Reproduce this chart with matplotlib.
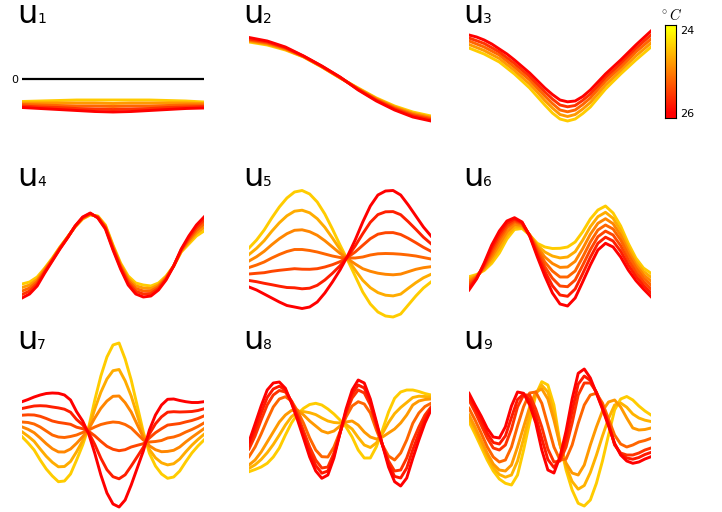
import numpy as np
import matplotlib.pyplot as plt
from matplotlib.colors import Normalize

# temperature (deg C) of each curve, yellow -> red
T5 = [24.4, 24.8, 25.2, 25.6, 26.0]
T7 = [24.4, 24.65, 24.95, 25.2, 25.45, 25.75, 26.0]
T7b = [24.4, 24.6, 24.8, 25.2, 25.6, 25.8, 26.0]

# singular vectors u1..u9, one row per temperature
U1 = [[-0.225, -0.22, -0.215, -0.21, -0.21, -0.21, -0.21, -0.21, -0.215, -0.22, -0.23],
      [-0.24, -0.24, -0.24, -0.24, -0.24, -0.245, -0.24, -0.24, -0.24, -0.24, -0.245],
      [-0.255, -0.26, -0.265, -0.27, -0.27, -0.275, -0.27, -0.27, -0.265, -0.26, -0.26],
      [-0.27, -0.28, -0.285, -0.295, -0.30, -0.305, -0.30, -0.295, -0.285, -0.28, -0.275],
      [-0.285, -0.295, -0.305, -0.315, -0.325, -0.33, -0.325, -0.315, -0.305, -0.295, -0.29]]

U2 = [[0.37, 0.34, 0.29, 0.22, 0.12, 0.01, -0.09, -0.19, -0.27, -0.33, -0.37],
      [0.38, 0.35, 0.297, 0.222, 0.122, 0.012, -0.095, -0.197, -0.28, -0.343, -0.383],
      [0.39, 0.36, 0.305, 0.225, 0.125, 0.015, -0.10, -0.205, -0.29, -0.355, -0.395],
      [0.40, 0.37, 0.312, 0.228, 0.128, 0.018, -0.105, -0.212, -0.30, -0.367, -0.407],
      [0.415, 0.38, 0.32, 0.23, 0.13, 0.02, -0.11, -0.22, -0.31, -0.38, -0.42]]

U3 = [[0.31, 0.28, 0.25, 0.21, 0.17, 0.11, 0.05, -0.02, -0.09, -0.175, -0.26, -0.34, -0.40,
       -0.42, -0.40, -0.345, -0.28, -0.19, -0.10, -0.025, 0.05, 0.12, 0.19, 0.255, 0.32],
      [0.345, 0.315, 0.285, 0.245, 0.205, 0.145, 0.085, 0.017, -0.05, -0.13, -0.215, -0.29, -0.355,
       -0.375, -0.355, -0.30, -0.235, -0.148, -0.06, 0.012, 0.085, 0.158, 0.23, 0.295, 0.36],
      [0.38, 0.35, 0.32, 0.28, 0.24, 0.18, 0.12, 0.055, -0.01, -0.09, -0.17, -0.245, -0.31,
       -0.328, -0.31, -0.255, -0.19, -0.105, -0.02, 0.05, 0.12, 0.195, 0.27, 0.335, 0.40],
      [0.41, 0.383, 0.355, 0.313, 0.27, 0.213, 0.155, 0.09, 0.025, -0.053, -0.13, -0.20, -0.26,
       -0.278, -0.265, -0.213, -0.15, -0.068, 0.015, 0.085, 0.155, 0.23, 0.305, 0.373, 0.44],
      [0.44, 0.42, 0.39, 0.35, 0.30, 0.25, 0.19, 0.125, 0.06, -0.015, -0.09, -0.155, -0.21,
       -0.228, -0.22, -0.175, -0.11, -0.03, 0.05, 0.12, 0.19, 0.265, 0.34, 0.41, 0.48]]

U4 = [[-0.29, -0.27, -0.22, -0.13, -0.03, 0.08, 0.18, 0.28, 0.36, 0.40, 0.39, 0.30, 0.10,
       -0.08, -0.21, -0.28, -0.30, -0.31, -0.28, -0.21, -0.11, 0.03, 0.11, 0.19, 0.24],
      [-0.325, -0.30, -0.245, -0.14, -0.04, 0.075, 0.178, 0.283, 0.365, 0.405, 0.385, 0.29, 0.088,
       -0.095, -0.233, -0.308, -0.33, -0.335, -0.298, -0.22, -0.11, 0.038, 0.13, 0.218, 0.275],
      [-0.36, -0.33, -0.265, -0.155, -0.045, 0.07, 0.175, 0.285, 0.37, 0.41, 0.38, 0.28, 0.075,
       -0.11, -0.255, -0.335, -0.36, -0.36, -0.315, -0.23, -0.11, 0.045, 0.15, 0.245, 0.31],
      [-0.395, -0.36, -0.288, -0.168, -0.053, 0.065, 0.173, 0.288, 0.375, 0.415, 0.375, 0.27, 0.063,
       -0.125, -0.278, -0.363, -0.39, -0.385, -0.333, -0.24, -0.11, 0.053, 0.17, 0.273, 0.345],
      [-0.43, -0.39, -0.31, -0.18, -0.06, 0.06, 0.17, 0.29, 0.38, 0.42, 0.37, 0.26, 0.05,
       -0.14, -0.30, -0.39, -0.42, -0.41, -0.35, -0.25, -0.11, 0.06, 0.19, 0.30, 0.38]]

U5 = [[0.07, 0.15, 0.25, 0.37, 0.48, 0.57, 0.63, 0.645, 0.61, 0.53, 0.41, 0.26, 0.10,
       -0.05, -0.21, -0.37, -0.49, -0.57, -0.61, -0.62, -0.59, -0.50, -0.41, -0.33, -0.27],
      [0.005, 0.067, 0.143, 0.237, 0.322, 0.392, 0.438, 0.448, 0.422, 0.363, 0.277, 0.17, 0.058,
       -0.043, -0.15, -0.253, -0.327, -0.376, -0.402, -0.409, -0.391, -0.333, -0.277, -0.228, -0.193],
      [-0.06, -0.017, 0.037, 0.103, 0.163, 0.213, 0.247, 0.252, 0.233, 0.197, 0.143, 0.08, 0.017,
       -0.037, -0.09, -0.137, -0.163, -0.182, -0.193, -0.198, -0.191, -0.167, -0.143, -0.127, -0.117],
      [-0.125, -0.10, -0.07, -0.03, 0.005, 0.035, 0.055, 0.055, 0.045, 0.03, 0.01, -0.01, -0.025,
       -0.03, -0.03, -0.02, 0.0, 0.012, 0.015, 0.013, 0.008, 0.0, -0.01, -0.025, -0.04],
      [-0.19, -0.183, -0.177, -0.163, -0.153, -0.145, -0.137, -0.142, -0.143, -0.137, -0.12, -0.097, -0.067,
       -0.023, 0.03, 0.097, 0.163, 0.208, 0.223, 0.224, 0.205, 0.167, 0.123, 0.077, 0.037],
      [-0.255, -0.267, -0.283, -0.297, -0.312, -0.325, -0.328, -0.338, -0.332, -0.303, -0.25, -0.183, -0.108,
       -0.017, 0.09, 0.213, 0.327, 0.404, 0.432, 0.434, 0.403, 0.333, 0.257, 0.178, 0.113],
      [-0.32, -0.35, -0.39, -0.43, -0.47, -0.505, -0.52, -0.535, -0.52, -0.47, -0.38, -0.27, -0.15,
       -0.01, 0.15, 0.33, 0.49, 0.60, 0.64, 0.645, 0.60, 0.50, 0.39, 0.28, 0.19]]

U6 = [[-0.217, -0.195, -0.155, -0.083, 0.02, 0.16, 0.255, 0.265, 0.20, 0.117, 0.08, 0.065, 0.067,
       0.08, 0.13, 0.233, 0.36, 0.45, 0.49, 0.42, 0.29, 0.117, -0.03, -0.13, -0.183],
      [-0.238, -0.203, -0.143, -0.052, 0.063, 0.197, 0.28, 0.28, 0.20, 0.098, 0.03, -0.01, -0.029,
       -0.02, 0.033, 0.149, 0.283, 0.383, 0.427, 0.367, 0.243, 0.078, -0.063, -0.163, -0.222],
      [-0.259, -0.212, -0.132, -0.021, 0.107, 0.233, 0.305, 0.295, 0.20, 0.079, -0.02, -0.085, -0.124,
       -0.12, -0.063, 0.064, 0.207, 0.317, 0.363, 0.313, 0.197, 0.039, -0.097, -0.197, -0.261],
      [-0.28, -0.22, -0.12, 0.01, 0.15, 0.27, 0.33, 0.31, 0.20, 0.06, -0.07, -0.16, -0.22,
       -0.22, -0.16, -0.02, 0.13, 0.25, 0.30, 0.26, 0.15, 0.0, -0.13, -0.23, -0.30],
      [-0.303, -0.227, -0.107, 0.04, 0.18, 0.293, 0.344, 0.317, 0.197, 0.034, -0.117, -0.233, -0.31,
       -0.317, -0.25, -0.102, 0.053, 0.183, 0.239, 0.20, 0.093, -0.05, -0.172, -0.267, -0.339],
      [-0.327, -0.233, -0.093, 0.07, 0.21, 0.317, 0.359, 0.323, 0.193, 0.009, -0.163, -0.307, -0.40,
       -0.413, -0.34, -0.185, -0.023, 0.117, 0.178, 0.14, 0.037, -0.10, -0.213, -0.303, -0.378],
      [-0.35, -0.24, -0.08, 0.10, 0.24, 0.34, 0.373, 0.33, 0.19, -0.017, -0.21, -0.38, -0.49,
       -0.51, -0.43, -0.267, -0.10, 0.05, 0.117, 0.08, -0.02, -0.15, -0.255, -0.34, -0.417]]

U7 = [[-0.117, -0.18, -0.25, -0.35, -0.44, -0.51, -0.567, -0.56, -0.49, -0.35, -0.20, -0.02, 0.25, 0.49, 0.68, 0.80,
       0.82, 0.66, 0.45, 0.19, -0.07, -0.283, -0.41, -0.49, -0.533, -0.52, -0.46, -0.367, -0.28, -0.21, -0.15],
      [-0.068, -0.112, -0.163, -0.24, -0.313, -0.373, -0.418, -0.415, -0.365, -0.267, -0.158, -0.03, 0.16, 0.328, 0.46, 0.543,
       0.555, 0.442, 0.29, 0.097, -0.097, -0.245, -0.328, -0.378, -0.399, -0.387, -0.34, -0.268, -0.202, -0.145, -0.093],
      [-0.019, -0.043, -0.077, -0.13, -0.187, -0.237, -0.269, -0.27, -0.24, -0.183, -0.117, -0.04, 0.07, 0.167, 0.24, 0.287,
       0.29, 0.223, 0.13, 0.003, -0.123, -0.208, -0.247, -0.267, -0.264, -0.253, -0.22, -0.169, -0.123, -0.08, -0.037],
      [0.03, 0.025, 0.01, -0.02, -0.06, -0.10, -0.12, -0.125, -0.115, -0.10, -0.075, -0.05, -0.02, 0.005, 0.02, 0.03,
       0.025, 0.005, -0.03, -0.09, -0.15, -0.17, -0.165, -0.155, -0.13, -0.12, -0.10, -0.07, -0.045, -0.015, 0.02],
      [0.098, 0.102, 0.10, 0.087, 0.065, 0.04, 0.026, 0.017, 0.007, -0.022, -0.037, -0.063, -0.108, -0.163, -0.213, -0.243,
       -0.257, -0.247, -0.22, -0.203, -0.187, -0.13, -0.077, -0.037, -0.001, 0.007, 0.015, 0.031, 0.045, 0.065, 0.091],
      [0.165, 0.178, 0.19, 0.193, 0.19, 0.18, 0.171, 0.158, 0.128, 0.055, 0.002, -0.077, -0.195, -0.332, -0.447, -0.517,
       -0.538, -0.498, -0.41, -0.317, -0.223, -0.09, 0.012, 0.082, 0.128, 0.133, 0.13, 0.132, 0.135, 0.145, 0.162],
      [0.233, 0.255, 0.28, 0.30, 0.315, 0.32, 0.317, 0.30, 0.25, 0.133, 0.04, -0.09, -0.283, -0.50, -0.68, -0.79,
       -0.82, -0.75, -0.60, -0.43, -0.26, -0.05, 0.10, 0.20, 0.257, 0.26, 0.245, 0.233, 0.225, 0.225, 0.233]]

U8 = [[-0.467, -0.445, -0.42, -0.383, -0.32, -0.23, -0.10, 0.02, 0.11, 0.167, 0.205, 0.217, 0.20, 0.16, 0.11, 0.05,
       -0.02, -0.12, -0.25, -0.33, -0.33, -0.217, -0.05, 0.13, 0.267, 0.33, 0.35, 0.35, 0.335, 0.315, 0.30],
      [-0.434, -0.398, -0.345, -0.277, -0.195, -0.10, 0.0, 0.083, 0.13, 0.134, 0.123, 0.104, 0.07, 0.04, 0.025, 0.02,
       0.005, -0.04, -0.125, -0.20, -0.225, -0.179, -0.085, 0.025, 0.114, 0.175, 0.225, 0.275, 0.288, 0.285, 0.28],
      [-0.40, -0.35, -0.27, -0.17, -0.07, 0.03, 0.10, 0.145, 0.15, 0.10, 0.04, -0.01, -0.06, -0.08, -0.06, -0.01,
       0.03, 0.04, 0.0, -0.07, -0.12, -0.14, -0.12, -0.08, -0.04, 0.02, 0.10, 0.20, 0.24, 0.255, 0.26],
      [-0.317, -0.22, -0.09, 0.05, 0.18, 0.26, 0.283, 0.24, 0.14, 0.017, -0.13, -0.25, -0.317, -0.32, -0.22, -0.067,
       0.08, 0.19, 0.233, 0.21, 0.12, -0.05, -0.20, -0.31, -0.35, -0.28, -0.15, 0.017, 0.12, 0.185, 0.217],
      [-0.24, -0.11, 0.05, 0.20, 0.30, 0.345, 0.33, 0.24, 0.10, -0.06, -0.22, -0.35, -0.43, -0.42, -0.28, -0.08,
       0.12, 0.27, 0.35, 0.32, 0.20, -0.01, -0.20, -0.36, -0.46, -0.45, -0.33, -0.16, -0.02, 0.10, 0.18],
      [-0.204, -0.05, 0.12, 0.275, 0.36, 0.388, 0.349, 0.23, 0.075, -0.097, -0.27, -0.405, -0.482, -0.46, -0.305, -0.082,
       0.14, 0.31, 0.40, 0.37, 0.23, 0.012, -0.20, -0.39, -0.514, -0.53, -0.43, -0.247, -0.085, 0.06, 0.165],
      [-0.167, 0.01, 0.19, 0.35, 0.42, 0.43, 0.367, 0.22, 0.05, -0.133, -0.32, -0.46, -0.533, -0.50, -0.33, -0.083,
       0.16, 0.35, 0.45, 0.42, 0.26, 0.033, -0.20, -0.42, -0.567, -0.61, -0.53, -0.333, -0.15, 0.02, 0.15]]

U9 = [[0.033, -0.09, -0.22, -0.35, -0.46, -0.54, -0.583, -0.60, -0.50, -0.25, 0.03, 0.30, 0.433, 0.40, 0.20, -0.183,
       -0.45, -0.65, -0.783, -0.81, -0.75, -0.583, -0.36, -0.10, 0.15, 0.26, 0.285, 0.25, 0.19, 0.14, 0.10],
      [0.067, -0.055, -0.185, -0.315, -0.425, -0.495, -0.522, -0.50, -0.36, -0.135, 0.105, 0.315, 0.397, 0.33, 0.125, -0.192,
       -0.415, -0.565, -0.642, -0.605, -0.475, -0.302, -0.11, 0.065, 0.20, 0.22, 0.178, 0.11, 0.07, 0.048, 0.035],
      [0.10, -0.02, -0.15, -0.28, -0.39, -0.45, -0.46, -0.40, -0.22, -0.02, 0.18, 0.33, 0.36, 0.26, 0.05, -0.20,
       -0.38, -0.48, -0.50, -0.40, -0.20, -0.02, 0.14, 0.23, 0.25, 0.18, 0.07, -0.03, -0.05, -0.045, -0.03],
      [0.167, 0.05, -0.08, -0.217, -0.32, -0.37, -0.35, -0.22, -0.01, 0.183, 0.32, 0.33, 0.217, 0.0, -0.22, -0.35,
       -0.34, -0.20, 0.017, 0.20, 0.30, 0.317, 0.22, 0.06, -0.10, -0.19, -0.22, -0.20, -0.17, -0.155, -0.133],
      [0.25, 0.13, 0.0, -0.13, -0.23, -0.25, -0.20, -0.04, 0.18, 0.30, 0.30, 0.16, -0.02, -0.24, -0.37, -0.36,
       -0.22, 0.02, 0.30, 0.42, 0.42, 0.33, 0.18, 0.02, -0.20, -0.28, -0.30, -0.30, -0.28, -0.25, -0.23],
      [0.284, 0.165, 0.045, -0.082, -0.175, -0.19, -0.109, 0.075, 0.255, 0.309, 0.25, 0.09, -0.135, -0.345, -0.425, -0.339,
       -0.14, 0.14, 0.409, 0.49, 0.445, 0.324, 0.17, 0.005, -0.192, -0.29, -0.33, -0.342, -0.325, -0.295, -0.274],
      [0.317, 0.20, 0.09, -0.033, -0.12, -0.13, -0.017, 0.19, 0.33, 0.317, 0.20, 0.02, -0.25, -0.45, -0.48, -0.317,
       -0.06, 0.26, 0.517, 0.56, 0.47, 0.317, 0.16, -0.01, -0.183, -0.30, -0.36, -0.383, -0.37, -0.34, -0.317]]

panels = [(U1, T5), (U2, T5), (U3, T5),
          (U4, T5), (U5, T7), (U6, T7),
          (U7, T7), (U8, T7b), (U9, T7b)]
cbar_ticks = [24, 26]

W, H = 722, 512
fig = plt.figure(figsize=(W / 100, H / 100), dpi=100)
norm = Normalize(24, 26)
cmap = plt.cm.autumn_r

col_x = [22, 249, 469]      # left edge of each column (px)
row_c = [79, 255, 425]      # zero line of each row (px)
title_x = [17.5, 243.5, 463.5]
title_base = [23, 186, 349]

for i, (curves, temps) in enumerate(panels):
    r, c = divmod(i, 3)
    ax = fig.add_axes([col_x[c] / W, 1 - (row_c[r] + 85) / H, 182 / W, 170 / H])
    if i == 0:
        ax.plot([0, 1], [0, 0], color='black', lw=1.6)
    for T, y in zip(temps, curves):
        x = np.linspace(0, 1, len(y))
        ax.plot(x, y, color=cmap(norm(T)), lw=2.1, solid_joinstyle='round')
    ax.set_xlim(0, 1)
    ax.set_ylim(-0.85, 0.85)
    if i == 0:
        for s in ax.spines.values():
            s.set_visible(False)
        ax.set_xticks([])
        ax.set_yticks([0])
        ax.tick_params(length=0, labelsize=8, pad=2.5)
    else:
        ax.axis('off')
    fig.text(title_x[c] / W, 1 - title_base[r] / H, 'u', fontsize=23,
             ha='left', va='baseline')
    fig.text((title_x[c] + 19.5) / W, 1 - title_base[r] / H, str(i + 1),
             fontsize=10, ha='left', va='baseline')

# colour bar
cax = fig.add_axes([665 / W, 1 - 118 / H, 11 / W, 93 / H])
grad = np.linspace(23.88, 26.12, 256)[:, None]
cax.imshow(grad, aspect='auto', cmap=cmap, norm=norm, extent=[0, 1, 26.12, 23.88])
cax.set_xticks([])
cax.yaxis.tick_right()
cax.set_yticks(cbar_ticks)
cax.tick_params(length=0, labelsize=8, pad=3)
for s in cax.spines.values():
    s.set_linewidth(0.8)
fig.text(671 / W, 1 - 20 / H, r'$^\circ C$', fontsize=10.5, ha='center',
         va='baseline', math_fontfamily='cm')

fig.savefig('out.png', dpi=100)
